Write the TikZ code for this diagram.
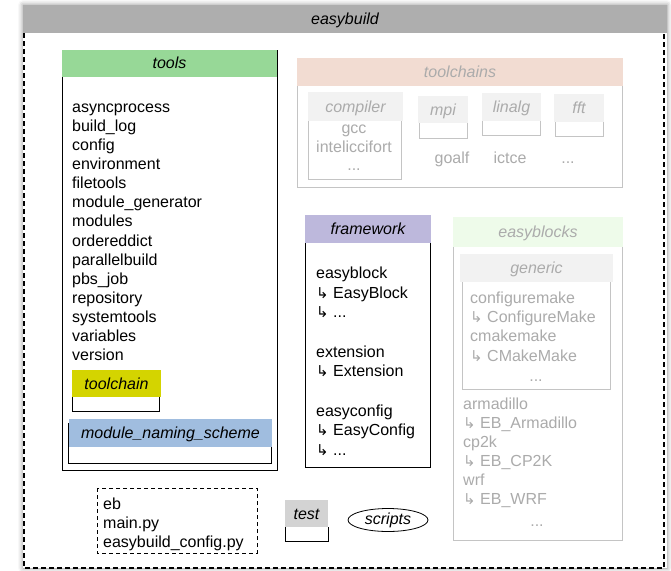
\documentclass[tikz,border=0pt]{standalone}
\usepackage{fontspec}
\setmainfont{Liberation Sans}
\newfontfamily\djv{DejaVu Sans}
\usetikzlibrary{shapes.geometric,shadows.blur}
\newcommand\harr{{\djv\fontsize{15}{15}\selectfont\char"21B3}}
\definecolor{hdrgray}{HTML}{AEAEAE}
\definecolor{toolsgreen}{HTML}{97D897}
\definecolor{tcyellow}{HTML}{D4D400}
\definecolor{mnsblue}{HTML}{A0BDDF}
\definecolor{tcpink}{HTML}{F2DCD2}
\definecolor{palegray}{HTML}{F2F2F2}
\definecolor{fwpurple}{HTML}{BDB8DC}
\definecolor{ebgreen}{HTML}{EEFBEA}
\definecolor{testgray}{HTML}{D3D3D3}
\definecolor{fadetext}{HTML}{ABABAB}
\definecolor{fadeline}{HTML}{C4C4C4}
\begin{document}
\begin{tikzpicture}[x=1pt,y=-1pt,
  every node/.style={font=\fontsize{16}{19.2}\selectfont, yshift=-1.8pt},
  ttl/.style={font=\fontsize{16}{19.2}\selectfont\itshape, text height=11.5pt, text depth=3.4pt, inner sep=0pt, anchor=center},
  fttl/.style={ttl, text=fadetext},
  lst/.style={anchor=base west, align=left, inner sep=0pt},
  flst/.style={lst, text=fadetext},
  body/.style={draw=black, line width=0.8pt},
  fbody/.style={draw=fadeline, line width=0.8pt},
]
\useasboundingbox (0,0) rectangle (671,570);
% outer
\path[fill=white, blur shadow={shadow xshift=0pt, shadow yshift=0pt, shadow blur radius=5pt, shadow opacity=45}] (23,5) rectangle (667,568);
\fill[hdrgray] (23,5) rectangle (667,33);
\draw[line width=1.2pt, dash pattern=on 5pt off 3pt] (24,33) -- (24,568) -- (664,568) -- (664,33);
\node[ttl] (eb) at (345,19) {easybuild};

% tools
\draw[body] (62,77) -- (62,470) -- (277,470) -- (277,50);
\fill[toolsgreen] (62,50) rectangle (277,77);
\node[ttl] (tools) at (169.5,63) {tools};
% base anchor = baseline of last line
\node[lst, font=\fontsize{16}{19.1}\selectfont] (toolslist) at (72,358.8) {asyncprocess\\build\_log\\config\\environment\\filetools\\module\_generator\\modules\\ordereddict\\parallelbuild\\pbs\_job\\repository\\systemtools\\variables\\version};
% toolchain
\draw[body] (72,397) -- (72,411.5) -- (159.5,411.5) -- (159.5,397);
\fill[tcyellow] (72,370) rectangle (161,397);
\node[ttl] (tc) at (116.5,383.5) {toolchain};
% module naming scheme
\draw[body] (68,423) -- (68,463) -- (271,463) -- (271,447);
\fill[mnsblue] (69,419) rectangle (272,447);
\node[ttl] (mns) at (170.5,433) {module\_naming\_scheme};

% toolchains
\draw[fbody] (297,86) -- (297,187) -- (622,187) -- (622,86);
\fill[tcpink] (297,58) rectangle (623,86);
\node[fttl] (tcs) at (460,72) {toolchains};
\draw[fbody] (308,121) -- (308,179) -- (401,179) -- (401,121);
\fill[palegray] (308,92) rectangle (403,121);
\node[fttl] (comp) at (355.5,106.5) {compiler};
\node[anchor=base, inner sep=0pt, text=fadetext] (gcc) at (354,131.7) {gcc};
\node[anchor=base, inner sep=0pt, text=fadetext] (intel) at (354,150.7) {inteliccifort};
\node[anchor=base, inner sep=0pt, text=fadetext] (cdots) at (354,169) {...};
\draw[fbody] (419,123) -- (419,138) -- (467,138) -- (467,123);
\fill[palegray] (418,96) rectangle (468,123);
\node[fttl] (mpi) at (443,109.5) {mpi};
\draw[fbody] (482,121) -- (482,135) -- (540,135) -- (540,121);
\fill[palegray] (482,93) rectangle (541,121);
\node[fttl] (linalg) at (511.5,107) {linalg};
\draw[fbody] (555,122) -- (555,136) -- (603,136) -- (603,122);
\fill[palegray] (554,94) rectangle (604,122);
\node[fttl] (fft) at (579,108) {fft};
\node[anchor=base, inner sep=0pt, text=fadetext] (goalf) at (452,162) {goalf};
\node[anchor=base, inner sep=0pt, text=fadetext] (ictce) at (510,162) {ictce};
\node[anchor=base, inner sep=0pt, text=fadetext] (tdots) at (568,162) {...};

% framework
\draw[body] (305,243) -- (305,467) -- (430,467) -- (430,215);
\fill[fwpurple] (305,215) rectangle (431,243);
\node[ttl] (fw) at (368,229) {framework};
\node[lst, font=\fontsize{16}{19.7}\selectfont] (fwlist) at (316,453.8) {easyblock\\\harr{} EasyBlock\\\harr{} ...\\[19.7pt]extension\\\harr{} Extension\\[19.7pt]easyconfig\\\harr{} EasyConfig\\\harr{} ...};

% easyblocks
\draw[fbody] (453,247) -- (453,540) -- (622,540) -- (622,247);
\fill[ebgreen] (453,217) rectangle (623,247);
\node[fttl] (ebs) at (538,232) {easyblocks};
\draw[fbody] (462,282) -- (462,389) -- (610,389) -- (610,282);
\fill[palegray] (460,254) rectangle (613,282);
\node[fttl] (gen) at (536.5,268) {generic};
\node[flst, font=\fontsize{16}{19.3}\selectfont] (genlist) at (470,359.4) {configuremake\\\harr{} ConfigureMake\\cmakemake\\\harr{} CMakeMake};
\node[anchor=base, inner sep=0pt, text=fadetext] (gdots) at (536,380) {...};
\node[flst, font=\fontsize{16}{19}\selectfont] (eblist) at (463,502.5) {armadillo\\\harr{} EB\_Armadillo\\cp2k\\\harr{} EB\_CP2K\\wrf\\\harr{} EB\_WRF};
\node[anchor=base, inner sep=0pt, text=fadetext] (edots) at (537,525) {...};

% bottom dashed box
\draw[line width=0.8pt, dash pattern=on 4pt off 3pt] (97,488) rectangle (257,553);
\node[lst, font=\fontsize{16}{19}\selectfont] (files) at (103,545.5) {eb\\main.py\\easybuild\_config.py};

% test
\draw[body] (285,527) -- (285,541) -- (328,541) -- (328,527);
\fill[testgray] (285,500) rectangle (328,527);
\node[ttl] (test) at (306.5,513.5) {test};

% scripts
\node[draw, ellipse, line width=0.8pt, minimum width=80pt, minimum height=23pt, inner sep=0pt, font=\fontsize{16}{19.2}\selectfont\itshape, yshift=1.8pt] (scripts) at (388,520) {scripts};
\end{tikzpicture}
\end{document}
